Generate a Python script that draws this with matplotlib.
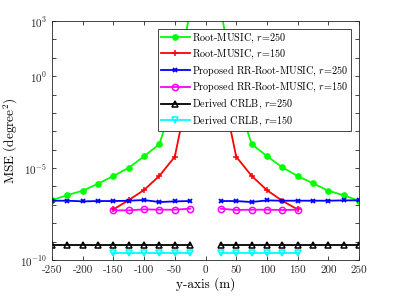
import numpy as np
import matplotlib
matplotlib.use('Agg')
import matplotlib.pyplot as plt

plt.rcParams['font.family'] = 'serif'
plt.rcParams['font.serif'] = ['cmr10', 'DejaVu Serif']
plt.rcParams['mathtext.fontset'] = 'cm'
plt.rcParams['axes.unicode_minus'] = False

# positions (m)
x250 = [-250, -225, -200, -175, -150, -125, -100, -75, -50, -25,
        25, 50, 75, 100, 125, 150, 175, 200, 225, 250]
x150 = [-150, -125, -100, -75, -50, -25, 25, 50, 75, 100, 125, 150]

# log10 of MSE values
music250 = [-6.74, -6.47, -6.23, -5.85, -5.43, -4.98, -4.36, -3.69, -1.04, 3.6,
            3.6, -1.04, -3.69, -4.35, -4.96, -5.43, -5.83, -6.23, -6.48, -6.78]
music150 = [-7.25, -6.74, -6.19, -5.42, -4.38, -0.33,
            -0.33, -4.38, -5.42, -6.20, -6.78, -7.25]
rr250 = [-6.775, -6.775, -6.811, -6.793, -6.793, -6.775, -6.739, -6.848, -6.811, -6.793,
         -6.793, -6.793, -6.848, -6.757, -6.775, -6.775, -6.775, -6.775, -6.757, -6.757]
rr150 = [-7.30, -7.30, -7.245, -7.263, -7.263, -7.209,
         -7.209, -7.28, -7.263, -7.263, -7.28, -7.263]
crlb250 = [-9.17] * 20
crlb150 = [-9.64] * 12

def seg(x, y):
    # split into left / right halves so the line breaks at 0
    x = np.array(x)
    y = 10.0 ** np.array(y)
    return (x[x < 0], y[x < 0]), (x[x > 0], y[x > 0])

fig = plt.figure(figsize=(3.97, 2.97), dpi=100)
ax = fig.add_axes([52/397, 37/297, 307/397, 239/297])

series = [
    (x250, music250, 'Root-MUSIC, $r$=250', dict(color=(0, 1, 0), marker='o', ms=3.8, mfc=(0, 1, 0))),
    (x150, music150, 'Root-MUSIC, $r$=150', dict(color='red', marker='+', ms=5, mew=1.1)),
    (x250, rr250, 'Proposed RR-Root-MUSIC, $r$=250', dict(color='blue', marker='x', ms=3.5, mew=1.3)),
    (x150, rr150, 'Proposed RR-Root-MUSIC, $r$=150', dict(color='magenta', marker='o', ms=4.5, mfc='none', mew=1.1)),
    (x250, crlb250, 'Derived CRLB, $r$=250', dict(color='black', marker='^', ms=5, mfc='none', mew=1.1)),
    (x150, crlb150, 'Derived CRLB, $r$=150', dict(color='cyan', marker='v', ms=5, mfc='none', mew=1.1)),
]

for xs, ys, lab, kw in series:
    (xl, yl), (xr, yr) = seg(xs, ys)
    ax.plot(xl, yl, lw=1.3, label=lab, **kw)
    ax.plot(xr, yr, lw=1.3, **kw)

ax.set_yscale('log')
ax.set_xlim(-250, 250)
ax.set_ylim(1e-10, 1e3)
ax.set_xticks(np.arange(-250, 251, 50))
ax.set_xticklabels([str(v) for v in range(-250, 251, 50)])
decades = list(range(-10, 4))
ax.set_yticks([10.0 ** d for d in decades])
ax.set_yticklabels(['$10^{%d}$' % d if d in (-10, -5, 0, 3) else '' for d in decades])
ax.minorticks_off()
ax.tick_params(direction='in', top=True, right=True, labelsize=8, length=3, width=0.6, colors='#262626')
ax.tick_params(axis='x', pad=4)
for s in ax.spines.values():
    s.set_linewidth(0.6)
    s.set_color('#262626')

ax.set_xlabel('y-axis (m)', fontsize=9.5)
ax.set_ylabel('MSE (degree$^2$)', fontsize=9.5)
ax.xaxis.set_label_coords(0.5, -0.07)
ax.yaxis.set_label_coords(-0.105, 0.5)

leg = ax.legend(loc='upper left', bbox_to_anchor=(158/397, 268/297), bbox_transform=fig.transFigure,
                fontsize=7.3, handlelength=2.9, labelspacing=0.25, borderpad=0.25,
                handletextpad=0.2, borderaxespad=0, fancybox=False, framealpha=1)
leg.get_frame().set_edgecolor('#262626')
leg.get_frame().set_linewidth(0.6)

fig.savefig('out.png', dpi=100)
